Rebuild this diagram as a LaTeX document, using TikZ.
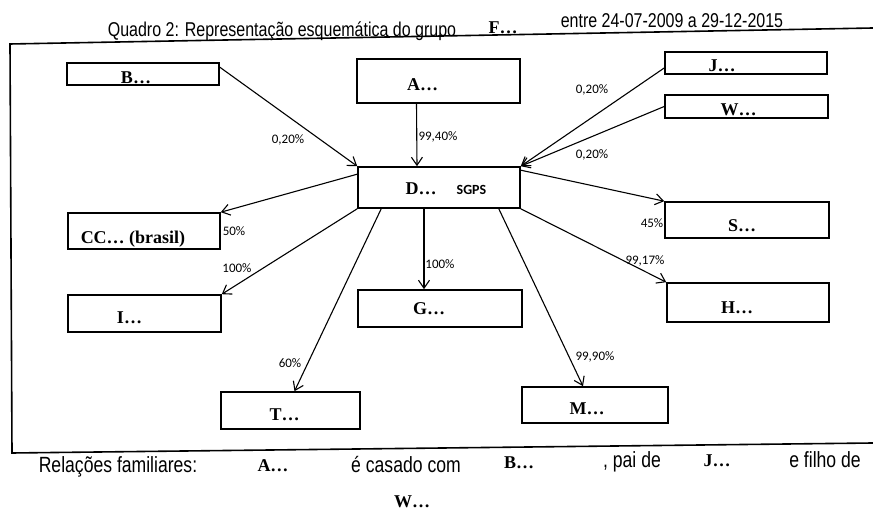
\documentclass[tikz,border=0pt]{standalone}
\usepackage{fontspec}
\setmainfont{Liberation Serif}
\setsansfont{Liberation Sans}
\newfontfamily\carlito{Carlito}
\usetikzlibrary{arrows.meta}

\begin{document}
\begin{tikzpicture}[x=0.5pt, y=-0.5pt, every node/.style={inner sep=0pt}, box/.style={draw, rectangle, line width=0.8pt, text height=10pt, text depth=0pt, font=\bfseries\fontsize{9}{10}\selectfont}, pct/.style={font=\carlito\fontsize{6.5}{7}\selectfont}, hd/.style={font=\sffamily\fontsize{10}{12}\selectfont, xscale=0.8}, ft/.style={font=\sffamily\fontsize{11}{13}\selectfont, xscale=0.8}, nm/.style={font=\bfseries\fontsize{9}{10}\selectfont}, link/.style={-{Straight Barb[length=4pt, width=5.5pt]}, line width=0.55pt}]
	\useasboundingbox (0,0) rectangle (873,512);
	\draw[line width=0.8pt] (873,28) -- (10,44) -- (12,453) -- (873,443);
	\node[hd] (q2) at (282,31) {Quadro 2: Representação esquemática do grupo}; \node[nm] (grp) at (503,28) {F…}; \node[hd] (per) at (672,21) {entre 24-07-2009 a 29-12-2015};
	\node[box, minimum width=76pt, minimum height=11pt] (B) at (143,74) {B…\hspace*{7pt}};
	\node[box, minimum width=81.5pt, minimum height=22pt] (A) at (438.5,81) {A…\hspace*{16pt}};
	\node[box, minimum width=81pt, minimum height=20.5pt, text height=7.5pt] (D) at (439,187.5) {\hspace*{7pt}D…\hspace{10pt}{\carlito\fontsize{7}{8}\selectfont SGPS}};
	\node[box, minimum width=76pt, minimum height=18pt, text height=13pt] (CC) at (144,231) {CC… (brasil)\hspace*{11pt}};
	\node[box, minimum width=81pt, minimum height=11pt, text height=9pt] (J) at (746,63) {J…\hspace*{24pt}};
	\node[box, minimum width=81.5pt, minimum height=11.5pt, text height=9.5pt] (W) at (746.5,106.5) {W…\hspace*{8pt}};
	\node[box, minimum width=82pt, minimum height=18pt, text height=12pt] (S) at (747,220) {S…\hspace*{5pt}};
	\node[box, minimum width=76.5pt, minimum height=18.5pt] (I) at (144.5,313.5) {I…\hspace*{15pt}};
	\node[box, minimum width=82pt, minimum height=18.5pt, text height=6.5pt] (G) at (440,308.5) {G…\hspace*{11pt}};
	\node[box, minimum width=69.5pt, minimum height=18.5pt] (T) at (290.5,410.5) {T…\hspace*{6pt}};
	\node[box, minimum width=81pt, minimum height=19.5pt, text height=11.5pt] (H) at (748,302.5) {H…\hspace*{11pt}};
	\node[box, minimum width=73pt, minimum height=18pt] (M) at (595,405) {M…\hspace*{8pt}};
	\foreach \a/\b in {W.west/D.north east, D.south west/I.north east, D.south east/H.north west} {\draw[link] (\a) -- (\b);}
	\draw[link] ([yshift=-2.5pt]B.north east) -- (D.north west); \draw[link] ([xshift=-11pt]A.south) -- ([xshift=-11pt]D.north); \draw[link] ([yshift=-2.5pt]J.west) -- (D.north east);
	\draw[link] ([yshift=-2pt]D.north east) -- (S.north west); \draw[link] ([yshift=-4pt]D.north west) -- (CC.north east); \draw[link] ([xshift=12pt]D.south west) -- ([xshift=2pt]T.north);
	\draw[link] ([xshift=-7.5pt]D.south) -- ([xshift=-8pt]G.north); \draw[link] ([xshift=-11pt]D.south east) -- ([xshift=-6pt]M.north);
	\node[pct] (pBD) at (288,140) {0,20\%}; \node[pct] (pAD) at (438,137) {99,40\%}; \node[pct] (pJD) at (592,90) {0,20\%}; \node[pct] (pWD) at (592,155) {0,20\%};
	\node[pct] (pDS) at (652,223) {45\%}; \node[pct] (pDC) at (234,231) {50\%}; \node[pct] (pDI) at (237,268) {100\%}; \node[pct] (pDT) at (290,363) {60\%};
	\node[pct] (pDG) at (440,264) {100\%}; \node[pct] (pDM) at (595,357) {99,90\%}; \node[pct] (pDH) at (645,261) {99,17\%};
	\node[ft] (rel) at (118,467) {Relações familiares:}; \node[nm] (fa) at (273,466) {A…}; \node[ft] (cas) at (406,465) {é casado com}; \node[nm] (fb) at (519,463) {B…};
	\node[ft] (pai) at (632,462) {, pai de}; \node[nm] (fj) at (717,461) {J…}; \node[ft] (fil) at (825,460) {e filho de}; \node[nm] (fw) at (412,502) {W…};
\end{tikzpicture}
\end{document}
